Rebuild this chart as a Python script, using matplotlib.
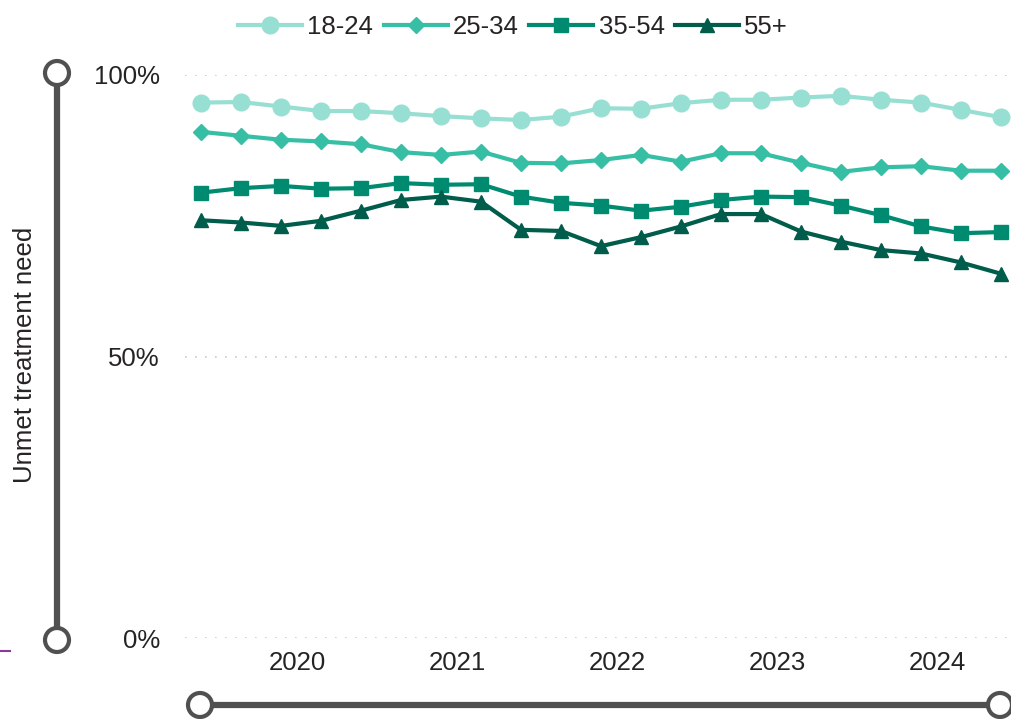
import matplotlib
matplotlib.use("Agg")
import matplotlib.pyplot as plt
from matplotlib.lines import Line2D
from matplotlib.patches import Circle
from matplotlib.ticker import FuncFormatter

plt.rcParams['font.family'] = ['Liberation Sans', 'DejaVu Sans']

# quarterly survey periods, 2019 Q2 .. 2024 Q2
periods = ["2019 Q2", "2019 Q3", "2019 Q4", "2020 Q1", "2020 Q2", "2020 Q3", "2020 Q4",
           "2021 Q1", "2021 Q2", "2021 Q3", "2021 Q4", "2022 Q1", "2022 Q2", "2022 Q3",
           "2022 Q4", "2023 Q1", "2023 Q2", "2023 Q3", "2023 Q4", "2024 Q1", "2024 Q2"]

age_18_24 = [95.1, 95.2, 94.4, 93.6, 93.6, 93.2, 92.7, 92.3, 92.0, 92.6, 94.1,
             94.0, 95.0, 95.6, 95.6, 96.0, 96.3, 95.6, 95.1, 93.8, 92.5]
age_25_34 = [89.9, 89.2, 88.5, 88.2, 87.7, 86.3, 85.8, 86.4, 84.4, 84.3, 84.9,
             85.8, 84.6, 86.1, 86.1, 84.4, 82.8, 83.6, 83.8, 83.0, 83.0]
age_35_54 = [79.1, 79.9, 80.3, 79.8, 79.9, 80.8, 80.5, 80.6, 78.4, 77.3, 76.8,
             75.9, 76.6, 77.8, 78.4, 78.3, 76.8, 75.1, 73.1, 71.9, 72.1]
age_55_plus = [74.2, 73.8, 73.2, 74.1, 75.9, 77.8, 78.4, 77.5, 72.5, 72.3, 69.6,
               71.2, 73.1, 75.3, 75.3, 72.2, 70.4, 68.9, 68.3, 66.7, 64.7]

years = [2020, 2021, 2022, 2023, 2024]


def period_to_x(p):
    y, q = p.split(" Q")
    # points sit a little into each quarter on the date axis
    return int(y) + (int(q) - 1) * 0.25 + 0.15


x = [period_to_x(p) for p in periods]

series = [
    ("18-24", age_18_24, "#98DFD3", "o", 12),
    ("25-34", age_25_34, "#36BFA5", "D", 8.5),
    ("35-54", age_35_54, "#008A70", "s", 10.5),
    ("55+", age_55_plus, "#005C4B", "^", 10.5),
]

W, H = 1012, 719
fig = plt.figure(figsize=(W / 100, H / 100), dpi=100)
ax = fig.add_axes([185 / W, (H - 638) / H, (W - 185) / W, 563 / H])

for name, vals, col, mk, ms in series:
    ax.plot(x, vals, color=col, lw=3, marker=mk, ms=ms, mec=col, mfc=col,
            label=name, clip_on=False, zorder=3)

ax.set_xlim(2019.3, 2024.469)
ax.set_ylim(0, 100)
ax.set_yticks([0, 50, 100])
ax.yaxis.set_major_formatter(FuncFormatter(lambda v, _: f"{v:.0f}%"))
ax.set_xticks(years)
ax.set_xticklabels([str(y) for y in years])
ax.tick_params(axis='both', length=0, labelsize=18.5, colors="#252423")
ax.tick_params(axis='y', pad=18)
ax.tick_params(axis='x', pad=9)
for s in ax.spines.values():
    s.set_visible(False)
ax.grid(axis='y', color="#C8C8C8", lw=1.2, ls=(0, (1, 5)))
ax.set_axisbelow(True)

fig.text(25 / W, 1 - 355 / H, "Unmet treatment need", rotation=90,
         ha='center', va='center', fontsize=18.5, color="#252423")

leg = fig.legend(loc='center', bbox_to_anchor=(513 / W, 1 - 27 / H), ncol=4,
                 frameon=False, fontsize=18.5, handlelength=2.5,
                 handletextpad=0.2, columnspacing=0.4, borderpad=0)
for t in leg.get_texts():
    t.set_color("#252423")

# slider-style axis handles around the plot
over = fig.add_axes([0, 0, 1, 1], zorder=-1)
over.set_xlim(0, W)
over.set_ylim(H, 0)
over.axis('off')
grey = "#505050"
over.add_line(Line2D([57, 57], [73, 640], color=grey, lw=4.5, solid_capstyle='butt'))
over.add_line(Line2D([200, 1000], [705, 705], color=grey, lw=4.5, solid_capstyle='butt'))
for cx, cy in [(57, 73), (57, 640), (200, 705), (1000, 705)]:
    over.add_patch(Circle((cx, cy), 12, facecolor='white', edgecolor=grey, lw=3, zorder=3))
over.add_line(Line2D([0, 10], [651, 651], color="#8B3A9C", lw=1.5))

fig.savefig("out.png", dpi=100)
